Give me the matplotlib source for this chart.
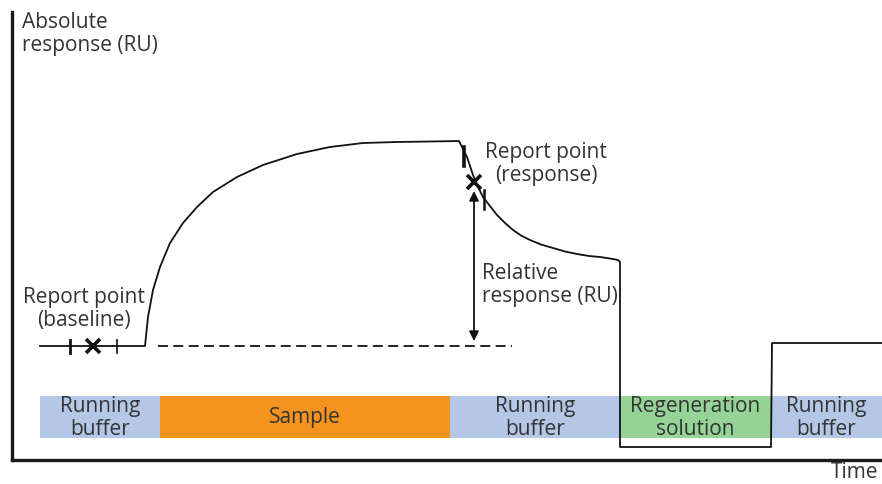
"""Schematic SPR sensorgram: absolute response vs time with report points."""
import matplotlib.pyplot as plt
from matplotlib.patches import Rectangle

# sensorgram trace (time, response) in drawing units
# (y grows downwards, like the picture)
time = [40, 145, 148, 153, 160, 170, 183, 197, 213, 237, 263, 297, 330, 363, 397,
        430, 459, 462, 467, 473, 478, 483, 490, 497, 505, 513, 521, 530, 541, 553,
        565, 577, 589, 600, 610, 618, 620, 620, 771, 772, 882]
resp = [346, 346, 317, 290, 267, 243, 223, 207, 192, 177, 165, 154, 147, 143, 142,
        141.5, 141, 147, 157, 175, 187, 197, 206, 215, 223, 230, 235.5, 240, 244.5,
        248, 251.5, 254, 256, 257, 258.5, 260, 262, 447, 447, 343, 343]

baseline_level = 346
dash_start, dash_end = 158, 512

# report point windows
base_ticks = [70, 117]
base_x = 93
resp_ticks = [(464, 147, 166), (484, 190, 209)]
resp_pt = (474, 182)
arrow_x = 474

# injection phases
phases = ["Running\nbuffer", "Sample", "Running\nbuffer", "Regeneration\nsolution", "Running\nbuffer"]
phase_start = [40, 160, 450, 620, 771]
phase_end = [160, 450, 620, 771, 882]
phase_colors = ["#b4c7e7", "#f4941f", "#b4c7e7", "#95d496", "#b4c7e7"]
band_top, band_bottom = 396, 438

TXT = "#333333"
FS = 15
plt.rcParams["font.family"] = ["Open Sans", "DejaVu Sans"]

fig = plt.figure(figsize=(8.82, 4.84), dpi=100)
ax = fig.add_axes([12 / 882, 24 / 484, 870 / 882, 448 / 484])
ax.set_xlim(12, 882)
ax.set_ylim(460, 12)
for s in ("top", "right"):
    ax.spines[s].set_visible(False)
for s in ("left", "bottom"):
    ax.spines[s].set_linewidth(2.4)
    ax.spines[s].set_color("#1a1a1a")
ax.set_xticks([])
ax.set_yticks([])

# phase bands
for lab, x0, x1, c in zip(phases, phase_start, phase_end, phase_colors):
    ax.add_patch(Rectangle((x0, band_top), x1 - x0, band_bottom - band_top,
                           facecolor=c, edgecolor="none", zorder=1))
    ax.text((x0 + x1) / 2, (band_top + band_bottom) / 2 + 1, lab, ha="center",
            va="center", fontsize=FS, color=TXT, linespacing=1.15, zorder=2)

# trace
ax.plot(time, resp, color="#111111", lw=1.3, zorder=3, solid_joinstyle="round")
ax.plot([dash_start, dash_end], [baseline_level, baseline_level], color="#111111",
        lw=1.3, dashes=(5.5, 3), zorder=3)

# baseline report point
for i, tx in enumerate(base_ticks):
    ax.plot([tx, tx], [340, 353], color="#111111", lw=2.0 if i == 0 else 1.2, zorder=3)
ax.plot(base_x, baseline_level, marker="x", ms=10, mew=2.6, color="#111111", zorder=4)

# response report point
for i, (tx, y0, y1) in enumerate(resp_ticks):
    ax.plot([tx, tx], [y0, y1], color="#111111", lw=2.6 if i == 0 else 1.8, zorder=3)
ax.plot(*resp_pt, marker="x", ms=10, mew=2.6, color="#111111", zorder=4)

# relative response arrow
ax.annotate("", xy=(arrow_x, 191), xytext=(arrow_x, 341),
            arrowprops=dict(arrowstyle="<|-|>", color="#111111", lw=1.3,
                            mutation_scale=14, shrinkA=0, shrinkB=0), zorder=3)

# labels
ax.text(22, 12, "Absolute\nresponse (RU)", ha="left", va="top", fontsize=FS,
        color=TXT, linespacing=1.15)
ax.text(84, 309, "Report point\n(baseline)", ha="center", va="center",
        fontsize=FS, color=TXT, linespacing=1.15)
ax.text(546, 164, "Report point\n(response)", ha="center", va="center",
        fontsize=FS, color=TXT, linespacing=1.15)
ax.text(482, 285, "Relative\nresponse (RU)", ha="left", va="center",
        fontsize=FS, color=TXT, linespacing=1.15)
ax.text(878, 473, "Time", ha="right", va="center", fontsize=FS, color=TXT,
        clip_on=False)

fig.savefig("out.png", dpi=100)
